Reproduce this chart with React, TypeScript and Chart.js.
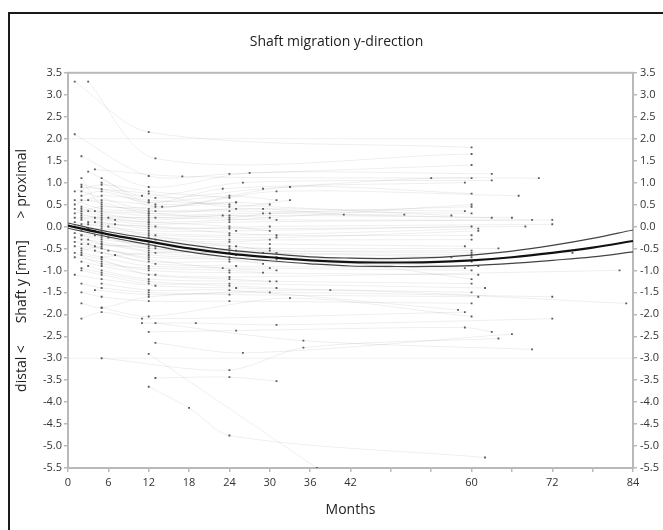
import React, { useEffect, useRef } from "react";
import { Chart, registerables } from "chart.js";

Chart.register(...registerables);

type Pt = [number, number];

// Patient tracks: [month, shaft y (mm)]
const tracksHigh: Pt[][] = [
  [[1, 3.3], [12, 2.15], [60, 1.8]],
  [[3, 3.3], [13, 1.55], [60, 1.65]],
  [[1, 2.1], [12, 1.15], [24, 1.2], [60, 1.4]],
  [[2, 1.6], [12, 0.9], [27, 1.22], [63, 1.2]],
  [[4, 1.3], [17, 1.14], [60, 1.1]],
  [[3, 1.25], [11, 0.7], [26, 1.0], [63, 1.05]],
  [[5, 1.1], [12, 0.55], [23, 0.86], [59, 1.0]],
  [[2, 0.95], [13, 0.65], [29, 0.86], [54, 1.1], [70, 1.1]],
  [[5, 1.0], [13, 0.45], [31, 0.8], [67, 0.7]],
  [[2, 0.8], [12, 0.4], [33, 0.9], [60, 0.75]],
  [[1, 0.8], [5, 0.95], [12, 0.8], [24, 0.65]],
  [[2, 1.1], [5, 0.5], [14, 0.45], [25, 0.55]],
  [[2, 0.9], [5, 0.85], [12, 0.75], [24, 0.45], [33, 0.6]],
  [[2, 0.7], [5, 0.8], [12, 0.55], [24, 0.7], [31, 0.6]],
];

const tracksMid: Pt[][] = [
  [[1, 0.5], [5, 0.7], [12, 0.6], [24, 0.5], [57, 0.25]],
  [[2, 0.6], [5, 0.55], [12, 0.3], [25, 0.4], [59, 0.35]],
  [[1, 0.3], [5, 0.45], [13, 0.35], [24, 0.35], [60, 0.3]],
  [[2, 0.4], [4, 0.35], [12, 0.25], [29, 0.3], [63, 0.2]],
  [[3, 0.35], [5, 0.3], [12, 0.15], [24, 0.25], [66, 0.2]],
  [[2, 0.25], [6, 0.2], [13, 0.2], [31, 0.15], [69, 0.15]],
  [[1, 0.2], [5, 0.15], [12, 0.05], [24, 0.1], [72, 0.15]],
  [[2, 0.15], [5, 0.1], [12, -0.05], [30, 0.0], [72, 0.05]],
  [[4, 0.1], [7, 0.05], [13, 0.0], [24, -0.05], [68, 0.0]],
  [[2, 0.05], [5, 0.0], [12, -0.1], [25, -0.1], [60, 0.0]],
  [[1, 0.0], [5, -0.05], [12, -0.15], [24, -0.2], [61, -0.05]],
  [[3, -0.05], [5, -0.1], [13, -0.2], [31, -0.25], [61, -0.1]],
  [[2, -0.1], [5, -0.15], [12, -0.25], [24, -0.3], [60, -0.3]],
  [[1, -0.15], [4, -0.2], [12, -0.35], [30, -0.4], [59, -0.45]],
  [[2, -0.2], [5, -0.25], [13, -0.45], [24, -0.5], [64, -0.5]],
  [[6, -0.25], [12, -0.5], [25, -0.55], [60, -0.6], [75, -0.6]],
  [[2, -0.3], [5, -0.35], [12, -0.55], [29, -0.6], [60, -0.65]],
  [[1, -0.35], [5, -0.4], [13, -0.6], [24, -0.7], [57, -0.7]],
  [[3, -0.4], [5, -0.5], [12, -0.7], [31, -0.75], [60, -0.8]],
  [[2, -0.5], [5, -0.6], [12, -0.8], [24, -0.8], [61, -0.9]],
  [[4, -0.55], [7, -0.65], [13, -0.85], [25, -0.9], [59, -0.95]],
  [[1, 0.1], [3, 0.05], [6, 0.0], [12, -0.2], [24, -0.45], [30, -0.5]],
  [[2, 0.3], [4, 0.2], [7, 0.15], [12, 0.1], [24, 0.0], [30, -0.1]],
  [[1, -0.25], [3, -0.3], [5, -0.4], [13, -0.5], [25, -0.65], [31, -0.7]],
  [[2, -0.4], [4, -0.45], [6, -0.55], [12, -0.65], [24, -0.75], [29, -0.85]],
  [[1, 0.4], [2, 0.35], [5, 0.25], [12, 0.2], [23, 0.25], [30, 0.2]],
  [[3, 0.6], [5, 0.6], [13, 0.5], [25, 0.55], [30, 0.5]],
  [[1, -0.45], [5, -0.5], [12, -0.75], [23, -0.95], [31, -1.0]],
  [[4, -0.1], [5, -0.2], [13, -0.3], [24, -0.35], [30, -0.3]],
  [[1, 0.6], [5, 0.4], [12, 0.35], [29, 0.4], [41, 0.27], [50, 0.27]],
  [[3, 0.1], [5, 0.05], [12, 0.0], [24, -0.15], [31, -0.2], [60, -0.2]],
  [[2, -0.2], [5, -0.3], [12, -0.4], [25, -0.45], [30, -0.55], [60, -0.55]],
  [[2, 0.45], [5, 0.35], [12, 0.3], [24, 0.2], [30, 0.3], [60, 0.45]],
  [[2, 0.2], [5, 0.2], [12, 0.1], [24, 0.15], [60, 0.5]],
  [[5, -0.7], [12, -0.6], [24, -0.6], [60, -0.7]],
  [[2, -0.55], [5, -0.45], [12, -0.45], [24, -0.55], [31, -0.6], [60, -1.2]],
  [[1, -0.6], [5, -0.85], [12, -0.95], [24, -1.0], [29, -1.05]],
  [[2, -0.65], [5, -0.75], [12, -1.1], [24, -1.2], [30, -1.25]],
];

const tracksLow: Pt[][] = [
  [[2, -0.6], [5, -0.7], [12, -0.9], [30, -0.95], [60, -1.0]],
  [[1, -0.7], [5, -0.8], [12, -1.0], [24, -1.05], [61, -1.1]],
  [[2, -0.8], [5, -0.9], [13, -1.1], [24, -1.15], [82, -1.0]],
  [[3, -0.9], [5, -1.0], [12, -1.2], [31, -1.25], [60, -1.3]],
  [[2, -1.0], [5, -1.1], [12, -1.3], [24, -1.3], [62, -1.4]],
  [[1, -1.1], [5, -1.2], [13, -1.35], [25, -1.4], [60, -1.5]],
  [[2, -1.3], [5, -1.4], [12, -1.5], [24, -1.55], [61, -1.6]],
  [[4, -1.45], [12, -1.55], [30, -1.5], [72, -1.6]],
  [[2, -1.5], [5, -1.6], [12, -1.7], [24, -1.7], [60, -1.75]],
  [[2, -1.75], [5, -1.85], [12, -1.6], [39, -1.45], [83, -1.75]],
  [[2, -2.1], [5, -1.95], [11, -2.1], [59, -1.95]],
  [[5, -1.85], [12, -2.05], [33, -1.63], [60, -2.05]],
  [[11, -2.2], [19, -2.2], [31, -2.24], [72, -2.1]],
  [[12, -2.4], [25, -2.37], [59, -2.3], [63, -2.4]],
  [[13, -2.65], [26, -2.88], [66, -2.45]],
  [[5, -3.0], [24, -3.27], [35, -2.76], [64, -2.55]],
  [[13, -3.45], [24, -3.43], [31, -3.52]],
  [[12, -3.65], [18, -4.13], [24, -4.76], [62, -5.26]],
  [[12, -2.9], [37, -5.5]],
  [[13, -2.2], [35, -2.6], [69, -2.8]],
  [[2, -0.95], [5, -1.05], [12, -1.25], [24, -1.35], [31, -1.4]],
  [[5, -1.3], [12, -1.45], [24, -1.45], [58, -1.9]],
];

// Population fit (mean) with confidence band
const fitMonths = [0, 6, 12, 18, 24, 30, 36, 42, 48, 54, 60, 66, 72, 78, 84];
const fitMean = [0.02, -0.18, -0.34, -0.5, -0.62, -0.7, -0.77, -0.81, -0.82, -0.81, -0.77, -0.7, -0.6, -0.48, -0.33];
const fitUpper = [0.08, -0.12, -0.27, -0.42, -0.54, -0.62, -0.69, -0.72, -0.73, -0.71, -0.65, -0.56, -0.43, -0.27, -0.08];
const fitLower = [-0.04, -0.24, -0.41, -0.58, -0.7, -0.78, -0.85, -0.9, -0.91, -0.91, -0.89, -0.84, -0.77, -0.69, -0.58];

const referenceLevels = [2.0, -3.0];
const xLabelledTicks = [0, 6, 12, 18, 24, 30, 36, 42, 60, 72, 84];
const xMin = 0;
const xMax = 84;
const yMin = -5.5;
const yMax = 3.5;

const FONT = "'Open Sans', 'DejaVu Sans', sans-serif";

const plotFrame = {
  id: "plotFrame",
  beforeDatasetsDraw(chart: any) {
    const { ctx, chartArea } = chart;
    ctx.save();
    ctx.strokeStyle = "#b9b9b9";
    ctx.lineWidth = 2;
    ctx.strokeRect(chartArea.left, chartArea.top, chartArea.right - chartArea.left, chartArea.bottom - chartArea.top);
    ctx.restore();
  },
};

export default function App() {
  const ref = useRef<HTMLCanvasElement>(null);

  useEffect(() => {
    const allTracks = [...tracksHigh, ...tracksMid, ...tracksLow];
    const datasets: any[] = [];

    const toXY = (ys: number[]) => fitMonths.map((m, i) => ({ x: m, y: ys[i] }));
    datasets.push({
      data: toXY(fitMean),
      showLine: true,
      borderColor: "#111",
      borderWidth: 2.2,
      pointRadius: 0,
      tension: 0.4,
      order: 0,
    });
    datasets.push({
      data: toXY(fitUpper),
      showLine: true,
      borderColor: "#444",
      borderWidth: 1.2,
      pointRadius: 0,
      tension: 0.4,
      order: 0,
    });
    datasets.push({
      data: toXY(fitLower),
      showLine: true,
      borderColor: "#444",
      borderWidth: 1.2,
      pointRadius: 0,
      tension: 0.4,
      order: 0,
    });

    referenceLevels.forEach((lv) => {
      datasets.push({
        data: [{ x: xMin, y: lv }, { x: xMax, y: lv }],
        showLine: true,
        borderColor: "rgba(0,0,0,0.06)",
        borderWidth: 1,
        pointRadius: 0,
        order: 3,
      });
    });

    allTracks.forEach((tr) => {
      datasets.push({
        data: tr.map(([x, y]) => ({ x, y })),
        showLine: true,
        borderColor: "rgba(0,0,0,0.065)",
        borderWidth: 1,
        tension: 0.3,
        pointStyle: "rect",
        pointRadius: 1.3,
        pointBackgroundColor: "#5a5a5a",
        pointBorderWidth: 0,
        order: 2,
      });
    });

    const chart = new Chart(ref.current!, {
      type: "scatter",
      data: { datasets },
      plugins: [plotFrame],
      options: {
        responsive: false,
        animation: false,
        devicePixelRatio: 1,
        layout: { padding: 0 },
        plugins: {
          legend: { display: false },
          tooltip: { enabled: false },
          title: {
            display: true,
            text: "Shaft migration y-direction",
            color: "#222",
            font: { family: FONT, size: 14, weight: "normal" },
            padding: { top: 20, bottom: 22 },
          },
        },
        scales: {
          x: {
            type: "linear",
            min: xMin,
            max: xMax,
            afterFit: (s: any) => {
              s.height = 62;
            },
            border: { display: false },
            grid: { drawOnChartArea: false, drawTicks: true, tickLength: 4, color: "#b9b9b9", lineWidth: 1.5 },
            ticks: {
              stepSize: 6,
              autoSkip: false,
              maxRotation: 0,
              padding: 4,
              color: "#333",
              font: { family: FONT, size: 11 },
              callback: (v: any) => (xLabelledTicks.includes(Number(v)) ? String(v) : ""),
            },
            title: {
              display: true,
              text: "Months",
              color: "#222",
              font: { family: FONT, size: 14 },
              padding: { top: 4, bottom: 12 },
            },
          },
          y: {
            type: "linear",
            position: "left",
            min: yMin,
            max: yMax,
            afterFit: (s: any) => {
              s.width = 58;
            },
            border: { display: false },
            grid: { drawOnChartArea: false, drawTicks: true, tickLength: 4, color: "#b9b9b9", lineWidth: 1.5 },
            ticks: {
              stepSize: 0.5,
              padding: 2,
              color: "#333",
              font: { family: FONT, size: 11 },
              callback: (v: any) => Number(v).toFixed(1),
            },
            title: {
              display: true,
              text: "distal <      Shaft y [mm]      > proximal",
              color: "#222",
              font: { family: FONT, size: 14 },
              padding: { top: 4, bottom: 0 },
            },
          },
          y2: {
            type: "linear",
            position: "right",
            min: yMin,
            max: yMax,
            afterFit: (s: any) => {
              s.width = 30;
            },
            border: { display: false },
            grid: { drawOnChartArea: false, drawTicks: true, tickLength: 4, color: "#b9b9b9", lineWidth: 1.5 },
            ticks: {
              stepSize: 0.5,
              padding: 3,
              color: "#333",
              font: { family: FONT, size: 11 },
              callback: (v: any) => Number(v).toFixed(1),
            },
          },
        },
      } as any,
    });
    return () => chart.destroy();
  }, []);

  return (
    <div
      style={{
        position: "fixed",
        left: 8,
        top: 12,
        width: 655,
        height: 518,
        borderLeft: "2px solid #1a1a1a",
        borderTop: "2px solid #1a1a1a",
        background: "#fff",
      }}
    >
      <canvas ref={ref} width={653} height={516} style={{ display: "block" }} />
    </div>
  );
}
